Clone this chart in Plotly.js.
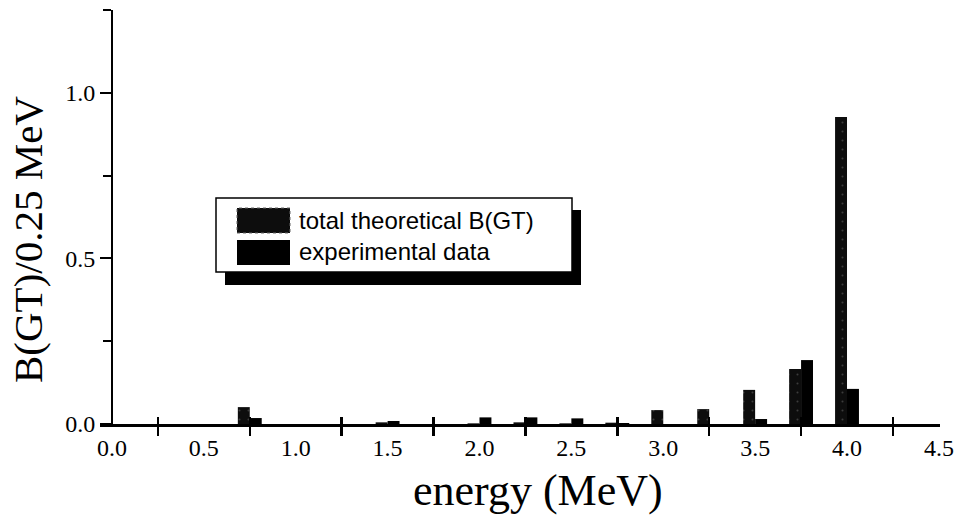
<!DOCTYPE html>
<html>
<head>
<meta charset="utf-8">
<script src="https://cdn.plot.ly/plotly-3.0.1.min.js"></script>
<style>
  html, body { margin: 0; padding: 0; background: #fff; }
  #chart { width: 956px; height: 522px; }
</style>
</head>
<body>
<div id="chart"></div>
<script>
// Gamow-Teller strength per 0.25 MeV bin
const energy = [0.25, 0.5, 0.75, 1.0, 1.25, 1.5, 1.75, 2.0, 2.25, 2.5, 2.75, 3.0, 3.25, 3.5, 3.75, 4.0, 4.25];
const theoretical = [0.0, 0.0, 0.051, 0.0, 0.0, 0.005, 0.0, 0.002, 0.005, 0.002, 0.004, 0.042, 0.045, 0.103, 0.166, 0.927, 0.0];
const experimental = [0.0, 0.0, 0.018, 0.0, 0.0, 0.009, 0.0, 0.020, 0.020, 0.017, 0.003, 0.0, 0.0, 0.015, 0.193, 0.106, 0.0];

const xLabelVals = [0, 0.5, 1.0, 1.5, 2.0, 2.5, 3.0, 3.5, 4.0, 4.5];
const xLabelText = ['0.0', '0.5', '1.0', '1.5', '2.0', '2.5', '3.0', '3.5', '4.0', '4.5'];
const xTickMarks = [0.25, 0.75, 1.25, 1.75, 2.25, 2.75, 3.25, 3.75, 4.25];
const yLabelVals = [0, 0.5, 1.0];
const yLabelText = ['0.0', '0.5', '1.0'];
const yMinorMarks = [0.25, 0.75, 1.25];

const legendNames = ['total theoretical B(GT)', 'experimental data'];

const serif = 'Liberation Serif, Times New Roman, serif';
const sans = 'Liberation Sans, Arial, Helvetica, sans-serif';

const W = 956, H = 522;
const M = {l: 100, r: 16, t: 10, b: 98};
const PW = W - M.l - M.r, PH = H - M.t - M.b;
// pixel -> paper helpers for the legend box and titles
const px = v => (v - M.l) / PW;
const py = v => (H - M.b - v) / PH;

const traces = [
  {
    type: 'bar', name: legendNames[0], x: energy, y: theoretical,
    marker: {
      color: '#0d0d0d',
      line: {width: 0},
      pattern: {shape: '.', fgcolor: '#3c3c3c', bgcolor: '#0d0d0d', size: 9, solidity: 0.04}
    },
    hoverinfo: 'x+y', showlegend: false
  },
  {
    type: 'bar', name: legendNames[1], x: energy, y: experimental,
    marker: {color: '#000', line: {width: 0}},
    hoverinfo: 'x+y', showlegend: false
  },
  // empty trace that carries the upper half of the crossing x ticks
  {type: 'scatter', mode: 'lines', x: [], y: [], xaxis: 'x2', yaxis: 'y', showlegend: false, hoverinfo: 'skip'}
];

const shapes = [
  // legend drop shadow
  {type: 'rect', xref: 'paper', yref: 'paper', x0: px(225), x1: px(581), y0: py(285), y1: py(210),
   fillcolor: '#000', line: {width: 0}, layer: 'above'},
  // legend frame
  {type: 'rect', xref: 'paper', yref: 'paper', x0: px(216), x1: px(572), y0: py(272), y1: py(198),
   fillcolor: '#fff', line: {color: '#000', width: 1.5}, layer: 'above'},
  // legend swatches
  {type: 'rect', xref: 'paper', yref: 'paper', x0: px(237), x1: px(290), y0: py(233), y1: py(208),
   fillcolor: '#0d0d0d', line: {color: '#666', width: 1, dash: 'dot'}, layer: 'above'},
  {type: 'rect', xref: 'paper', yref: 'paper', x0: px(237), x1: px(290), y0: py(265), y1: py(240),
   fillcolor: '#000', line: {width: 0}, layer: 'above'}
];

const annotations = [
  {xref: 'paper', yref: 'paper', x: px(297), y: py(220), xanchor: 'left', yanchor: 'middle',
   text: legendNames[0], showarrow: false, font: {family: sans, size: 24, color: '#000'}},
  {xref: 'paper', yref: 'paper', x: px(297), y: py(252), xanchor: 'left', yanchor: 'middle',
   text: legendNames[1], showarrow: false, font: {family: sans, size: 24, color: '#000'}},
  {xref: 'paper', yref: 'paper', x: px(538), y: py(490), xanchor: 'center', yanchor: 'middle',
   text: 'energy (MeV)', showarrow: false, font: {family: serif, size: 44, color: '#000'}},
  {xref: 'paper', yref: 'paper', x: px(28), y: py(240), xanchor: 'center', yanchor: 'middle',
   text: 'B(GT)/0.25 MeV', textangle: -90, showarrow: false, font: {family: serif, size: 41, color: '#000'}}
];

const layout = {
  width: W, height: H,
  margin: M,
  paper_bgcolor: '#fff', plot_bgcolor: '#fff',
  showlegend: false,
  barmode: 'group', bargap: 0.48, bargroupgap: 0,
  font: {family: serif, color: '#000'},
  xaxis: {
    range: [-0.065, 4.506],
    showgrid: false, zeroline: false,
    showline: true, linecolor: '#000', linewidth: 3,
    tickmode: 'array', tickvals: xLabelVals, ticktext: xLabelText,
    ticks: '', tickfont: {family: serif, size: 24, color: '#000'},
    minor: {tickmode: 'array', tickvals: xTickMarks, ticks: 'outside', ticklen: 9,
            tickwidth: 2.5, tickcolor: '#000', showgrid: false},
    fixedrange: true
  },
  xaxis2: {
    overlaying: 'x', anchor: 'y', range: [-0.065, 4.506],
    showgrid: false, zeroline: false, showline: false,
    tickmode: 'array', tickvals: xTickMarks, ticks: 'inside', ticklen: 7,
    tickwidth: 2.5, tickcolor: '#000', showticklabels: false, fixedrange: true
  },
  yaxis: {
    range: [0, 1.25],
    anchor: 'free', position: px(112),
    showgrid: false, zeroline: false,
    showline: true, linecolor: '#000', linewidth: 2,
    tickmode: 'array', tickvals: yLabelVals, ticktext: yLabelText,
    ticks: 'outside', ticklen: 11, tickwidth: 2, tickcolor: '#000',
    tickfont: {family: serif, size: 24, color: '#000'},
    minor: {tickmode: 'array', tickvals: yMinorMarks, ticks: 'outside', ticklen: 8,
            tickwidth: 2, tickcolor: '#000', showgrid: false},
    fixedrange: true
  },
  shapes: shapes,
  annotations: annotations
};

Plotly.newPlot('chart', traces, layout, {displayModeBar: false, staticPlot: true});
</script>
</body>
</html>
